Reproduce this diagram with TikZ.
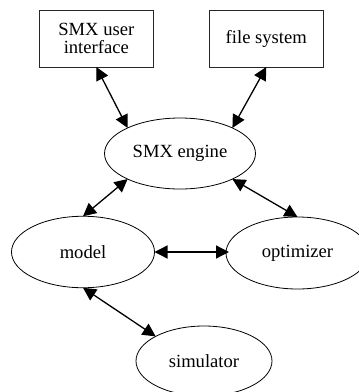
\documentclass[tikz,border=0pt]{standalone}
\usepackage{fontspec}
\setmainfont{Liberation Serif}
\usetikzlibrary{arrows.meta,shapes.geometric}
\tikzset{
  boxnode/.style={draw=black!85,line width=0.8pt,minimum width=113.5pt,minimum height=57pt,inner sep=0pt,outer sep=0pt,align=center,font=\fontsize{18.6}{19}\selectfont},
  ellnode/.style={draw=black,line width=0.8pt,ellipse,inner sep=0pt,outer sep=0pt,font=\fontsize{18.6}{19}\selectfont},
  link/.style={line width=1.3pt,{Triangle[length=13pt,width=13pt]}-{Triangle[length=13pt,width=13pt]}}
}
\begin{document}
\begin{tikzpicture}[x=1pt,y=-1pt]
\path[use as bounding box,clip] (0,0) rectangle (359,392);
\fill[white] (0,0) rectangle (359,392);
\node[boxnode] (ui) at (96.3,38.5) {SMX user\\[-0.5pt]interface};
\node[boxnode] (fs) at (266.3,38.5) {file system};
\node[ellnode,minimum width=151pt,minimum height=71pt] (engine) at (180,153.5) {SMX engine};
\node[ellnode,minimum width=143pt,minimum height=71.5pt] (model) at (83,252) {model};
\node[ellnode,minimum width=143pt,minimum height=72pt] (optimizer) at (297.5,253) {optimizer};
\node[ellnode,minimum width=136pt,minimum height=70pt] (simulator) at (204,361) {simulator};
\draw[link] (ui.south) -- (engine.154);
\draw[link] (fs.south) -- (engine.26);
\draw[link] (engine.206) -- (model.north);
\draw[link] (engine.-26) -- (optimizer.north);
\draw[link,shorten >=-3pt] (model.east) -- (model.east -| optimizer.west);
\draw[link] (model.south) -- (simulator.153);
\end{tikzpicture}
\end{document}
